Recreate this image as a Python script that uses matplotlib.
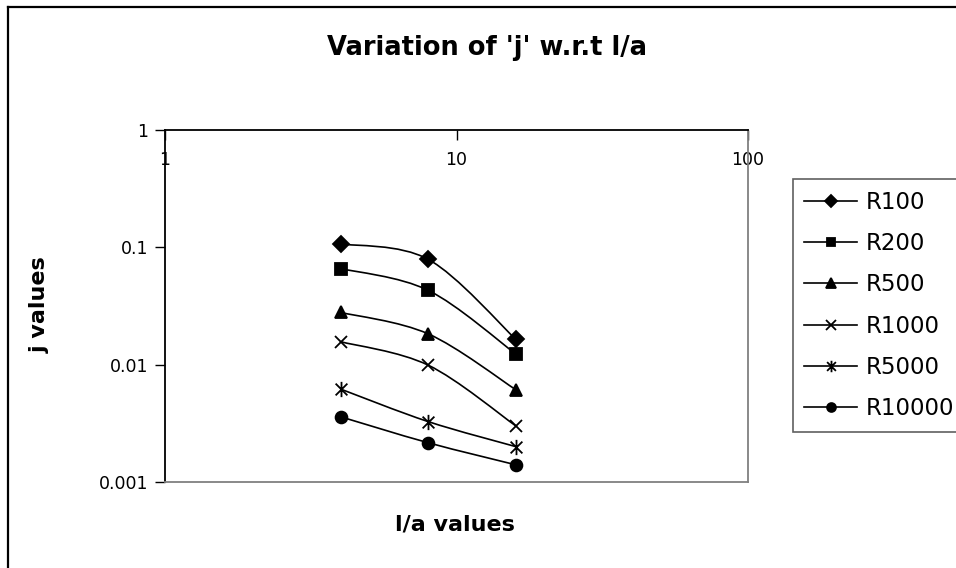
import numpy as np
import matplotlib
matplotlib.use("Agg")
import matplotlib.pyplot as plt
from matplotlib.path import Path
from matplotlib.patches import PathPatch
from matplotlib.lines import Line2D

# data
la_values = [4, 8, 16]
series_names = ["R100", "R200", "R500", "R1000", "R5000", "R10000"]
j_r100 = [0.107, 0.079, 0.0164]
j_r200 = [0.066, 0.043, 0.0123]
j_r500 = [0.0279, 0.0183, 0.0061]
j_r1000 = [0.0157, 0.0099, 0.0030]
j_r5000 = [0.0062, 0.00327, 0.0020]
j_r10000 = [0.0036, 0.00216, 0.0014]
all_series = [j_r100, j_r200, j_r500, j_r1000, j_r5000, j_r10000]

# Excel style asterisk: x plus a vertical bar
star = Path([(-1, -1), (1, 1), (-1, 1), (1, -1), (0, -1.3), (0, 1.3)],
            [Path.MOVETO, Path.LINETO, Path.MOVETO, Path.LINETO, Path.MOVETO, Path.LINETO])
markers = [("D", 8), ("s", 8), ("^", 9), ("x", 9), (star, 11), ("o", 8.5)]


def smooth_path(xs, ys):
    # catmull-rom style bezier in log space, like Excel's smoothed line
    lx = np.log10(xs)
    ly = np.log10(ys)
    pts = np.column_stack([lx, ly])
    ext = np.vstack([pts[0], pts, pts[-1]])
    verts = [pts[0]]
    codes = [Path.MOVETO]
    for i in range(len(pts) - 1):
        p0, p1, p2, p3 = ext[i], ext[i + 1], ext[i + 2], ext[i + 3]
        c1 = p1 + (p2 - p0) / 6.0
        c2 = p2 - (p3 - p1) / 6.0
        verts += [c1, c2, p2]
        codes += [Path.CURVE4] * 3
    return Path(10 ** np.array(verts), codes)


fig = plt.figure(figsize=(9.56, 5.68), dpi=100)
W, H = 956, 568
ax = fig.add_axes([165 / W, 1 - 482 / H, (748 - 165) / W, (482 - 130) / H])

ax.set_xscale("log")
ax.set_yscale("log")
ax.set_xlim(1, 100)
ax.set_ylim(0.001, 1)

handles = []
for vals, name, (mk, ms) in zip(all_series, series_names, markers):
    ax.add_patch(PathPatch(smooth_path(la_values, vals), fill=False,
                           edgecolor="black", linewidth=1.2, zorder=2))
    ax.plot(la_values, vals, linestyle="none", marker=mk, markersize=ms,
            color="black", markeredgewidth=1.3, zorder=3)
    handles.append(Line2D([], [], color="black", linewidth=1.2, marker=mk,
                          markersize=ms, markeredgewidth=1.3, label=name))

ax.minorticks_off()
ax.set_xticks([1, 10, 100])
ax.set_xticklabels(["1", "10", "100"])
ax.set_yticks([0.001, 0.01, 0.1, 1])
ax.set_yticklabels(["0.001", "0.01", "0.1", "1"])

ax.xaxis.set_ticks_position("top")
ax.tick_params(axis="x", which="major", direction="in", length=7, width=1,
               labeltop=True, labelbottom=False, pad=-28, labelsize=12.5)
ax.tick_params(axis="y", which="major", direction="out", length=7, width=1,
               pad=5, labelsize=12.5)

for side in ["left", "top"]:
    ax.spines[side].set_color("black")
    ax.spines[side].set_linewidth(1.3)
for side in ["right", "bottom"]:
    ax.spines[side].set_color("#808080")
    ax.spines[side].set_linewidth(1.3)

leg = fig.legend(handles=handles, loc="upper left",
                 bbox_to_anchor=(792.7 / W, 1 - 179.3 / H),
                 bbox_transform=fig.transFigure, fontsize=16.5, frameon=True,
                 fancybox=False, framealpha=1, edgecolor="#606060",
                 handlelength=2.3, handletextpad=0.4, labelspacing=0.8,
                 borderpad=0.5, borderaxespad=0, markerscale=0.75)
leg.get_frame().set_linewidth(1.2)

fig.text(487 / W, 1 - 48 / H, "Variation of 'j' w.r.t l/a", ha="center",
         va="center", fontsize=18.5, fontweight="bold")
fig.text(455 / W, 1 - 525 / H, "l/a values", ha="center", va="center",
         fontsize=16, fontweight="bold")
fig.text(40 / W, 1 - 305 / H, "j values", ha="center", va="center",
         rotation=90, fontsize=16, fontweight="bold")

# outer chart border (only top and left visible in the reference)
fig.add_artist(Line2D([8 / W, 1], [1 - 7 / H, 1 - 7 / H], color="black",
                      linewidth=1.6, transform=fig.transFigure))
fig.add_artist(Line2D([8 / W, 8 / W], [0, 1 - 7 / H], color="black",
                      linewidth=1.6, transform=fig.transFigure))

fig.savefig("out.png", dpi=100)
